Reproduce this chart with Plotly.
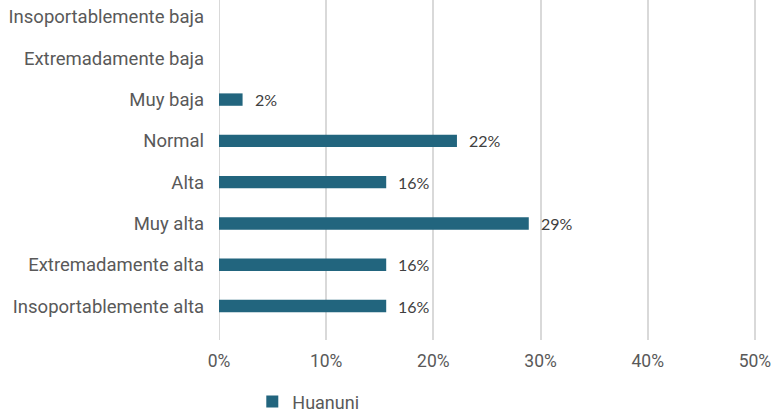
import plotly.graph_objects as go

categories = ["Insoportablemente baja", "Extremadamente baja", "Muy baja", "Normal",
              "Alta", "Muy alta", "Extremadamente alta", "Insoportablemente alta"]
values = [0.0, 0.0, 2.2, 22.2, 15.6, 28.9, 15.6, 15.6]
labels = ["", "", "2%", "22%", "16%", "29%", "16%", "16%"]
series_name = "Huanuni"
x_ticks = [0, 10, 20, 30, 40, 50]
x_tick_labels = ["0%", "10%", "20%", "30%", "40%", "50%"]

bar_color = "#22657E"

fig = go.Figure()
fig.add_trace(go.Bar(
    y=categories, x=values, orientation="h", name=series_name,
    marker=dict(color=bar_color, line=dict(width=0)),
    width=0.3, showlegend=True,
))

for c, v, t in zip(categories, values, labels):
    if t:
        fig.add_annotation(x=v, y=c, text=t, showarrow=False, xanchor="left",
                           xshift=10, yshift=0,
                           font=dict(family="Lato, Open Sans, sans-serif", size=16, color="#404040"))

fig.update_layout(
    width=773, height=412,
    margin=dict(l=219, r=17, t=0, b=72, autoexpand=False),
    paper_bgcolor="white", plot_bgcolor="white",
    font=dict(family="Roboto, sans-serif", size=18, color="#595959"),
    xaxis=dict(range=[0, 50.1], tickvals=x_ticks, ticktext=x_tick_labels,
               showgrid=True, gridcolor="#D9D9D9", gridwidth=2,
               zeroline=True, zerolinecolor="#D9D9D9", zerolinewidth=1,
               showline=False, ticks="", ticklabelstandoff=8, automargin=False,
               tickfont=dict(family="Roboto, sans-serif", size=17.5, color="#595959")),
    yaxis=dict(categoryorder="array", categoryarray=categories,
               range=[7.823, -0.412], showgrid=False, zeroline=False, showline=False,
               ticks="", ticklabelstandoff=14, automargin=False,
               tickfont=dict(family="Roboto, sans-serif", size=18.5, color="#595959")),
    legend=dict(orientation="h", x=0.062, xanchor="left", y=-0.182, yanchor="middle",
                font=dict(family="Roboto, sans-serif", size=18, color="#595959"),
                bgcolor="rgba(0,0,0,0)"),
)

fig.write_html("out.html", config={"displayModeBar": False},
               post_script="document.body.style.margin='0';")
